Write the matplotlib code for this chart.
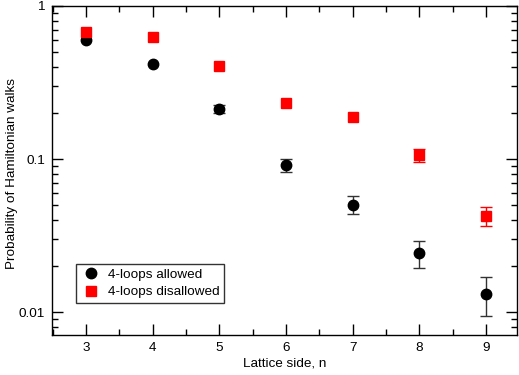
import matplotlib.pyplot as plt
from matplotlib.ticker import LogLocator, NullFormatter, FixedLocator

plt.rcParams["font.family"] = ["Liberation Sans", "DejaVu Sans"]

n = [3, 4, 5, 6, 7, 8, 9]

allowed = [0.597, 0.416, 0.213, 0.0914, 0.0503, 0.0242, 0.0132]
allowed_lo = [0.0, 0.0, 0.012, 0.0092, 0.0066, 0.0048, 0.0037]
allowed_hi = [0.0, 0.0, 0.012, 0.0093, 0.0071, 0.0048, 0.0037]

disallowed = [0.673, 0.630, 0.407, 0.233, 0.189, 0.106, 0.0426]
disallowed_lo = [0.0, 0.0, 0.0, 0.0, 0.0, 0.011, 0.0061]
disallowed_hi = [0.0, 0.0, 0.0, 0.0, 0.0, 0.010, 0.0061]

FS = 9.7


def with_errors(x, y, lo, hi):
    # keep only points that actually have an error bar
    keep = [i for i in range(len(x)) if lo[i] > 0 or hi[i] > 0]
    return ([x[i] for i in keep], [y[i] for i in keep],
            [[lo[i] for i in keep], [hi[i] for i in keep]])


def main():
    fig = plt.figure(figsize=(5.19, 3.75), dpi=100)
    ax = fig.add_axes([0.1, 0.107, 0.897, 0.877])

    ex, ey, eerr = with_errors(n, allowed, allowed_lo, allowed_hi)
    ax.errorbar(ex, ey, yerr=eerr, fmt="none", ecolor="#333333",
                capsize=4, elinewidth=1, capthick=1)
    ex, ey, eerr = with_errors(n, disallowed, disallowed_lo, disallowed_hi)
    ax.errorbar(ex, ey, yerr=eerr, fmt="none", ecolor="red",
                capsize=4, elinewidth=1, capthick=1)

    ax.plot(n, allowed, "o", color="black", markersize=7.5,
            label="4-loops allowed", zorder=3)
    ax.plot(n, disallowed, "s", color="red", markersize=6.5,
            label="4-loops disallowed", zorder=3)

    ax.set_yscale("log")
    ax.set_ylim(0.0071, 1.0)
    ax.set_xlim(2.49, 9.47)

    ax.yaxis.set_major_locator(FixedLocator([0.01, 0.1, 1]))
    ax.set_yticklabels(["0.01", "0.1", "1"])
    ax.yaxis.set_minor_locator(LogLocator(base=10, subs=range(2, 10)))
    ax.yaxis.set_minor_formatter(NullFormatter())
    ax.set_xticks(n)
    ax.xaxis.set_minor_locator(FixedLocator([x + 0.5 for x in range(2, 10)]))

    ax.tick_params(which="both", direction="in", top=True, right=True,
                   labelsize=FS, width=1)
    ax.tick_params(which="major", length=8, pad=5)
    ax.tick_params(which="minor", length=4)
    for s in ax.spines.values():
        s.set_linewidth(1)

    ax.set_xlabel("Lattice side, n", fontsize=FS, labelpad=3)
    ax.set_ylabel("Probability of Hamiltonian walks", fontsize=FS)
    ax.yaxis.set_label_coords(-0.073, 0.49)

    leg = ax.legend(loc="lower left", bbox_to_anchor=(0.052, 0.097),
                    borderaxespad=0, fontsize=FS, frameon=True,
                    fancybox=False, edgecolor="black", handletextpad=0.5,
                    borderpad=0.35, labelspacing=0.35, handlelength=1.5)
    leg.get_frame().set_linewidth(1)

    fig.savefig("out.png", dpi=100)


if __name__ == "__main__":
    main()
